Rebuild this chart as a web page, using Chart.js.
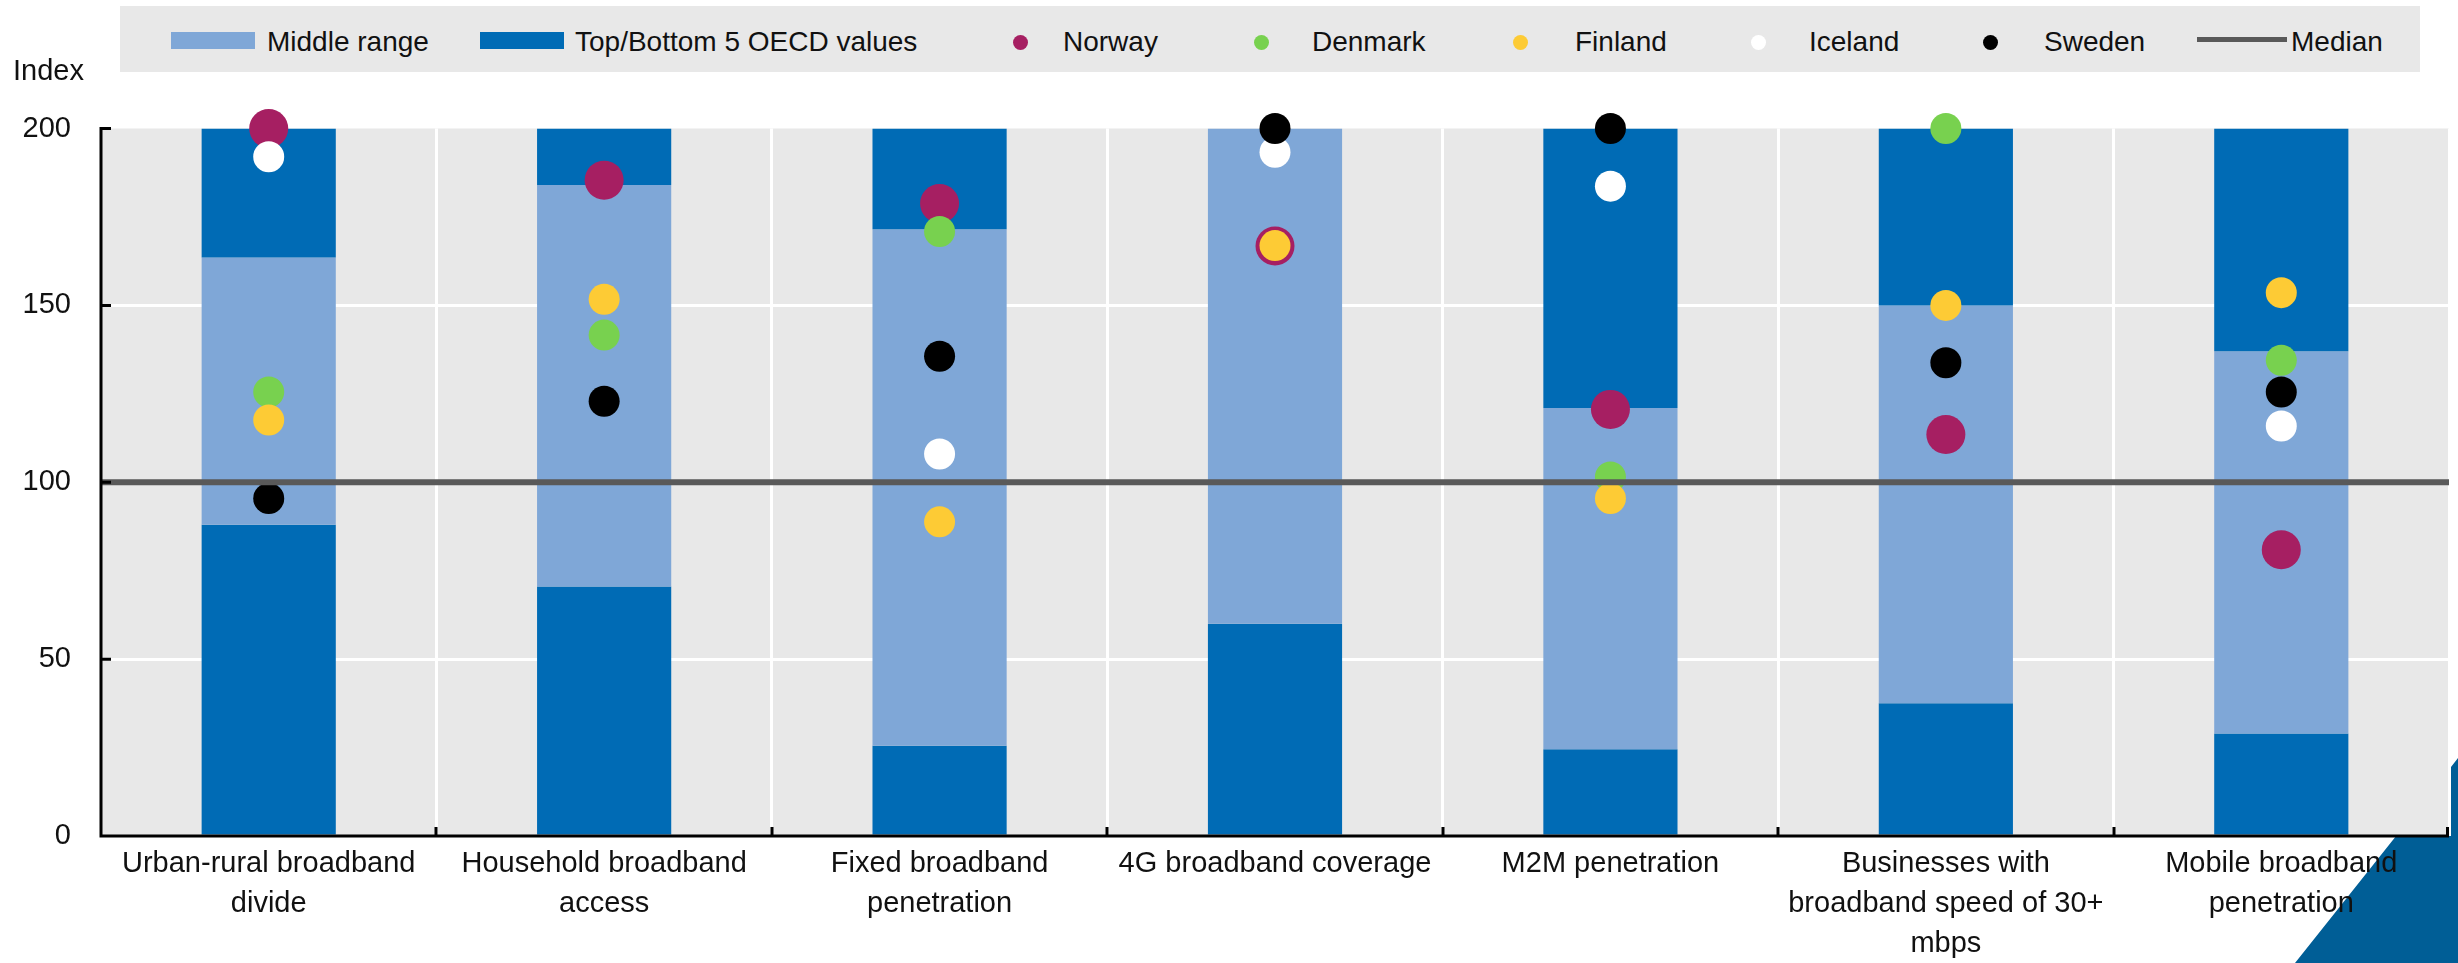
<!DOCTYPE html>
<html>
<head>
<meta charset="utf-8">
<script src="https://cdn.jsdelivr.net/npm/chart.js@4.4.1/dist/chart.umd.min.js"></script>
<style>
html,body{margin:0;padding:0;background:#fff;overflow:hidden;width:2458px;height:963px;}
#wrap{position:absolute;left:0;top:0;width:2458px;height:1000px;}
#legend{position:absolute;left:120px;top:6px;width:2300px;height:66px;background:#e8e8e8;
  font-family:"Liberation Sans",Arial,sans-serif;font-size:28px;color:#111;}
#legend .sw{position:absolute;}
#legend .tx{position:absolute;top:22px;line-height:28px;white-space:nowrap;}
</style>
</head>
<body>
<div id="wrap"><canvas id="c" width="2458" height="1000"></canvas></div>
<div id="legend"></div>
<script>
// ---------- DATA ----------
const categories = [
  ["Urban-rural broadband", "divide"],
  ["Household broadband", "access"],
  ["Fixed broadband", "penetration"],
  "4G broadband coverage",
  "M2M penetration",
  ["Businesses with", "broadband speed of 30+", "mbps"],
  ["Mobile broadband", "penetration"]
];
const bottom5Upper = [88, 70.5, 25.5, 60, 24.5, 37.5, 29];      // top of bottom-5 band
const top5Lower    = [163.5, 184, 171.5, 200, 121, 150, 137];    // bottom of top-5 band
const indexMax = 200;
const norway  = [200, 185.4, 178.8, 166.8, 120.6, 113.5, 80.9];
const denmark = [125.5, 141.6, 170.9, null, 101.5, 200, 134.5];
const finland = [117.6, 151.7, 88.8, 166.9, 95.4, 150, 153.6];
const iceland = [192, null, 108, 193.3, 183.7, null, 115.9];
const sweden  = [95.4, 122.9, 135.6, 200, 200, 133.8, 125.5];
const medianValue = 100;
const yTicks = [0, 50, 100, 150, 200];

// ---------- STYLE ----------
const FONT = '"Liberation Sans", Arial, sans-serif';
const C = {
  light: '#7FA7D7', dark: '#006BB5', norway: '#A61F62', denmark: '#78D14F',
  finland: '#FDCB35', iceland: '#FFFFFF', sweden: '#000000', median: '#595959',
  plotBg: '#e8e8e8', text: '#111111'
};

const countryDs = (label, data, color, radius, order) => ({
  type: 'line', label, data, showLine: false, clip: false, order,
  pointRadius: radius, pointHoverRadius: radius, pointBorderWidth: 0,
  pointBackgroundColor: color, borderColor: color, backgroundColor: color
});

const datasets = [
  { type: 'bar', label: 'Top/Bottom 5 OECD values', data: bottom5Upper.map(v => [0, v]),
    backgroundColor: C.dark, grouped: false, order: 10 },
  { type: 'bar', label: 'Middle range', data: bottom5Upper.map((v, i) => [v, top5Lower[i]]),
    backgroundColor: C.light, grouped: false, order: 9 },
  { type: 'bar', label: 'Top 5 OECD values', data: top5Lower.map(v => [v, indexMax]),
    backgroundColor: C.dark, grouped: false, order: 8 },
  countryDs('Norway', norway, C.norway, 19.5, 5),
  countryDs('Denmark', denmark, C.denmark, 15.5, 4),
  countryDs('Finland', finland, C.finland, 15.5, 3),
  countryDs('Iceland', iceland, C.iceland, 15.5, 2),
  countryDs('Sweden', sweden, C.sweden, 15.5, 1),
  { type: 'line', label: 'Median', xAxisID: 'x2', data: [{x: 0, y: medianValue}, {x: 1, y: medianValue}],
    borderColor: C.median, borderWidth: 6, pointRadius: 0, order: 0 }
];

// ---------- PLUGIN ----------
const decor = {
  id: 'decor',
  beforeDraw(chart) {
    const {ctx, chartArea: a} = chart;
    ctx.save();
    ctx.fillStyle = '#005E96';
    ctx.beginPath();
    ctx.moveTo(2451, 767); ctx.lineTo(2458, 758); ctx.lineTo(2458, 963); ctx.lineTo(2295, 963);
    ctx.closePath(); ctx.fill();
    ctx.fillStyle = C.plotBg;
    ctx.fillRect(a.left, a.top, a.right - a.left, a.bottom - a.top);
    ctx.fillStyle = C.text;
    ctx.font = '29px ' + FONT;
    ctx.textBaseline = 'alphabetic';
    ctx.textAlign = 'left';
    ctx.fillText('Index', 13, 80);
    ctx.restore();
  },
  afterDatasetsDraw(chart) {
    const {ctx, chartArea: a, scales} = chart;
    ctx.save();
    ctx.strokeStyle = '#000';
    ctx.lineWidth = 3;
    ctx.beginPath();
    ctx.moveTo(a.left, a.top - 1.5); ctx.lineTo(a.left, a.bottom);
    ctx.lineTo(a.right, a.bottom);
    scales.y.ticks.forEach(t => {
      if (t.value === 0) return;
      const y = scales.y.getPixelForValue(t.value);
      ctx.moveTo(a.left, y); ctx.lineTo(a.left + 10, y);
    });
    const n = categories.length;
    const half = (scales.x.getPixelForValue(1) - scales.x.getPixelForValue(0)) / 2;
    for (let i = 0; i < n; i++) {
      const x = Math.min(Math.round(scales.x.getPixelForValue(i) + half), a.right - 1.5);
      ctx.moveTo(x, a.bottom); ctx.lineTo(x, a.bottom - 9);
    }
    ctx.stroke();
    ctx.restore();
  }
};

Chart.defaults.font.family = FONT;
Chart.defaults.color = C.text;

const chart = new Chart(document.getElementById('c'), {
  data: { labels: categories, datasets },
  options: {
    responsive: false, animation: false, devicePixelRatio: 1,
    layout: { autoPadding: false, padding: { left: 23, right: 9, top: 128.5, bottom: 28 } },
    datasets: { bar: { barPercentage: 0.4, categoryPercentage: 1.0, borderWidth: 0 } },
    plugins: { legend: { display: false }, tooltip: { enabled: false } },
    scales: {
      x: {
        type: 'category', offset: true,
        grid: { offset: true, color: '#ffffff', lineWidth: 3, drawTicks: false },
        border: { display: false },
        ticks: { font: { size: 29, lineHeight: 40 / 29 }, color: C.text, padding: 8,
                  maxRotation: 0, autoSkip: false }
      },
      x2: { type: 'linear', min: 0, max: 1, display: false },
      y: {
        min: 0, max: indexMax,
        afterBuildTicks: s => { s.ticks = yTicks.map(v => ({ value: v })); },
        afterFit: s => { s.width = 78; },
        grid: { color: c => (c.tick && (c.tick.value === 0 || c.tick.value === indexMax)) ? 'rgba(0,0,0,0)' : '#ffffff',
                lineWidth: 3, drawTicks: false },
        border: { display: false },
        ticks: { font: { size: 29, lineHeight: 1.2 }, color: C.text, padding: 30 }
      }
    }
  },
  plugins: [decor]
});

// ---------- HTML LEGEND ----------
const legendLayout = [
  { label: 'Middle range', kind: 'box', color: C.light, mark: 51, text: 147 },
  { label: 'Top/Bottom 5 OECD values', kind: 'box', color: C.dark, mark: 360, text: 455 },
  { label: 'Norway', kind: 'dot', color: C.norway, mark: 900, text: 943 },
  { label: 'Denmark', kind: 'dot', color: C.denmark, mark: 1141, text: 1192 },
  { label: 'Finland', kind: 'dot', color: C.finland, mark: 1400, text: 1455 },
  { label: 'Iceland', kind: 'dot', color: C.iceland, mark: 1638, text: 1689 },
  { label: 'Sweden', kind: 'dot', color: C.sweden, mark: 1870, text: 1924 },
  { label: 'Median', kind: 'line', color: C.median, mark: 2077, text: 2171 }
];
const lg = document.getElementById('legend');
legendLayout.forEach(it => {
  const m = document.createElement('div');
  m.className = 'sw';
  m.style.background = it.color;
  if (it.kind === 'box') { m.style.left = it.mark + 'px'; m.style.top = '26px'; m.style.width = '84px'; m.style.height = '17px'; }
  else if (it.kind === 'dot') { m.style.left = (it.mark - 7.5) + 'px'; m.style.top = '29px'; m.style.width = '15px'; m.style.height = '15px'; m.style.borderRadius = '50%'; }
  else { m.style.left = it.mark + 'px'; m.style.top = '31px'; m.style.width = '90px'; m.style.height = '5px'; }
  lg.appendChild(m);
  const t = document.createElement('div');
  t.className = 'tx';
  t.style.left = it.text + 'px';
  t.textContent = it.label;
  lg.appendChild(t);
});
</script>
</body>
</html>
